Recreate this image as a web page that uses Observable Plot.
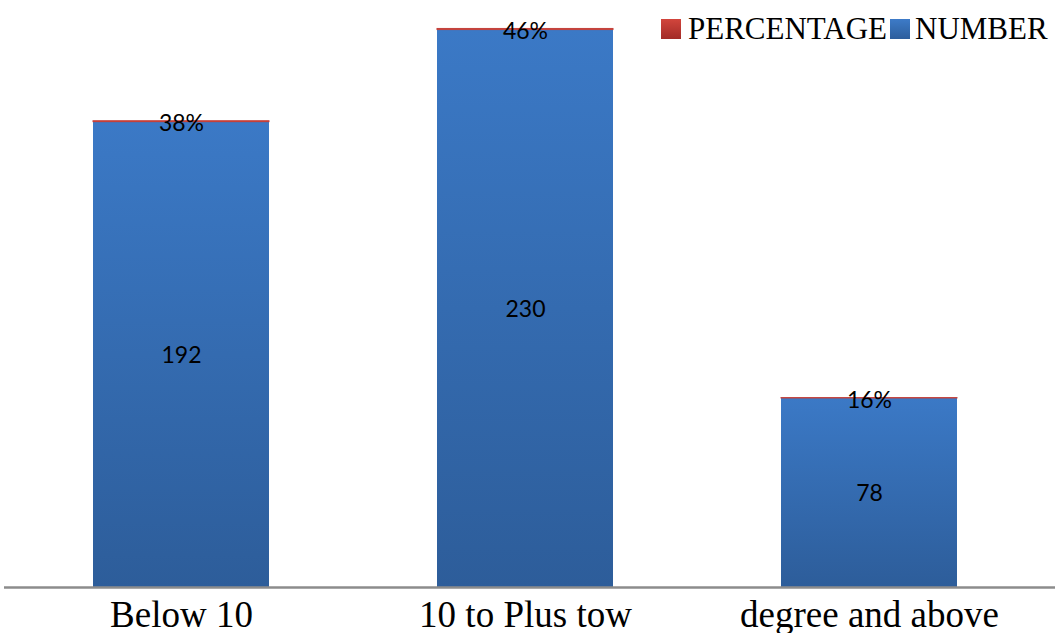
<!DOCTYPE html>
<html>
<head>
<meta charset="utf-8">
<script src="https://cdn.jsdelivr.net/npm/d3@7"></script>
<script src="https://cdn.jsdelivr.net/npm/@observablehq/plot@0.6"></script>
<style>
  html, body { margin: 0; padding: 0; background: #fff; }
  #wrap { position: relative; width: 1055px; height: 633px; }
  #legend { position: absolute; left: 661px; top: 11px; display: flex; align-items: center;
    font-family: "Liberation Serif", "Times New Roman", serif; font-size: 31px; color: #000; white-space: nowrap; }
  #legend .sw { width: 20px; height: 20px; display: inline-block; }
  #legend .lab { margin-left: 7px; margin-right: 3px; }
</style>
</head>
<body>
<div id="wrap">
  <div id="chart"></div>
  <div id="legend">
    <span class="sw" style="background: linear-gradient(#d2453c, #a22b27);"></span><span class="lab">PERCENTAGE</span>
    <span class="sw" style="background: linear-gradient(#3d7bc8, #2d5e9c);"></span><span class="lab" style="margin-left:5px">NUMBER</span>
  </div>
</div>
<script>
const categories = ["Below 10", "10 to Plus tow", "degree and above"];
const numbers = [192, 230, 78];
const percentages = [0.38, 0.46, 0.16];
const seriesNames = ["NUMBER", "PERCENTAGE"];

const rows = [];
categories.forEach((c, i) => {
  rows.push({category: c, series: "NUMBER", value: numbers[i], label: String(numbers[i])});
  rows.push({category: c, series: "PERCENTAGE", value: percentages[i], label: Math.round(percentages[i] * 100) + "%"});
});

const labelFont = "Lato, 'Open Sans', sans-serif";

const chart = Plot.plot({
  width: 1055,
  height: 633,
  marginTop: 0,
  marginBottom: 46,
  marginLeft: 4,
  marginRight: 0,
  x: {domain: categories, range: [7, 1043], paddingInner: 0.4884, paddingOuter: 0.25, label: null},
  y: {domain: [0, 242.2], axis: null},
  color: {domain: seriesNames, range: ["url(#gBlue)", "#c4403a"]},
  opacity: {domain: [0, 1], range: [0, 1]},
  marks: [
    Plot.barY(rows, Plot.stackY({x: "category", y: "value", fill: "series", z: "series"})),
    Plot.barY(rows, Plot.stackY({x: "category", y: "value", z: "series", fill: "none",
      stroke: "#c4403a", strokeWidth: 1,
      strokeOpacity: d => d.series === "PERCENTAGE" ? 1 : 0})),
    Plot.ruleY([0], {stroke: "#8c8c8c", strokeWidth: 2.5}),
    Plot.text(rows, Plot.stackY({x: "category", y: "value", z: "series",
      text: d => d.series === "NUMBER" ? d.label : null,
      fontFamily: labelFont, fontSize: 23, fill: "#000", dy: 1})),
    Plot.text(rows, Plot.stackY({x: "category", y: "value", z: "series",
      text: d => d.series === "PERCENTAGE" ? d.label : null,
      fontFamily: labelFont, fontSize: 23, fill: "#000", dy: 2})),
    Plot.axisX({tickSize: 0, tickPadding: 13, fontSize: 37, fontFamily: "'Liberation Serif', 'Times New Roman', serif", fill: "#000", label: null})
  ]
});

const ns = "http://www.w3.org/2000/svg";
const defs = document.createElementNS(ns, "defs");
defs.innerHTML = `
  <linearGradient id="gBlue" x1="0" y1="0" x2="0" y2="1">
    <stop offset="0" stop-color="#3b79c6"/>
    <stop offset="1" stop-color="#2d5d9a"/>
  </linearGradient>`;
chart.insertBefore(defs, chart.firstChild);
chart.style.overflow = "visible";
document.getElementById("chart").appendChild(chart);
</script>
</body>
</html>
